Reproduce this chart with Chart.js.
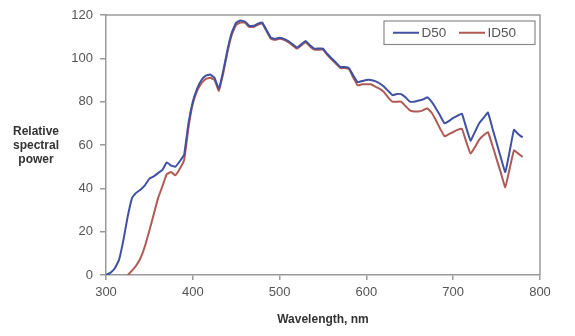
<!DOCTYPE html>
<html>
<head>
<meta charset="utf-8">
<title>Relative spectral power</title>
<script src="https://cdn.jsdelivr.net/npm/chart.js@4/dist/chart.umd.min.js"></script>
<style>
    html, body { margin: 0; padding: 0; background: #fff; }
    #wrap { width: 575px; height: 336px; }
</style>
</head>
<body>
<div id="wrap"><canvas id="chartSpd" width="575" height="336"></canvas></div>
<script>
/* =========================================================
   DATA
========================================================= */
const wavelengths = [
    300, 305, 310, 315, 320, 325, 330, 335, 340, 345,
    350, 355, 360, 365, 370, 375, 380, 385, 390, 395,
    400, 405, 410, 415, 420, 425, 430, 435, 440, 445,
    450, 455, 460, 465, 470, 475, 480, 485, 490, 495,
    500, 505, 510, 515, 520, 525, 530, 535, 540, 545,
    550, 555, 560, 565, 570, 575, 580, 585, 590, 595,
    600, 605, 610, 615, 620, 625, 630, 635, 640, 645,
    650, 655, 660, 665, 670, 675, 680, 685, 690, 695,
    700, 705, 710, 715, 720, 725, 730, 735, 740, 745,
    750, 755, 760, 765, 770, 775, 780
];

const d50 = [
    0, 1, 3, 7, 16, 27, 35.5, 38, 39.5, 41.5,
    44.5, 45.5, 47, 48.5, 52, 50.5, 50, 52.5, 55.5, 70,
    80, 86, 90, 92, 92.5, 91, 86, 94, 104, 112,
    116.5, 117.5, 117, 115, 115, 116, 116.5, 113, 109.5, 109,
    109.5, 109, 108, 106.5, 105, 106.5, 108, 106, 104.5, 104.5,
    104.5, 102, 100, 98, 96, 96, 95.5, 92, 89, 89.5,
    90, 90, 89.5, 88.5, 87, 85, 83, 83.5, 83.5, 82,
    80, 80, 80.5, 81, 82, 80, 77, 73.5, 70, 71,
    72.5, 73.5, 74.5, 68, 62, 66, 70, 72.5, 75, 68,
    61, 54, 47.5, 57, 67, 65, 63.5
];

const id50 = [
    null, null, null, null, null, 0, 2, 4.5, 8, 13.5,
    20.5, 28, 35.5, 41, 46.5, 47.5, 46, 49, 53, 68,
    79, 85, 88.5, 90.5, 91, 90, 85, 93, 103, 111,
    115.5, 116.5, 116.5, 114.5, 114.5, 115.5, 116, 112.5, 109, 108.5,
    109, 108.5, 107.5, 106, 104.5, 106, 107.5, 105.5, 104, 104,
    104, 101.5, 99.5, 97.5, 95.5, 95.5, 95, 91, 87.5, 88,
    88, 88, 87, 86, 84.5, 82, 80, 80, 80, 78,
    76, 75.5, 75.5, 76, 77, 75, 71.5, 67.5, 64, 65,
    66, 67, 67.5, 61.5, 56, 59, 62.5, 64.5, 66, 60,
    53.5, 47, 40.5, 49, 57.5, 56, 54.5
];

const seriesNames = ["D50", "ID50"];
const xTicks = [300, 400, 500, 600, 700, 800];
const yTicks = [0, 20, 40, 60, 80, 100, 120];
const yTitleLines = ["Relative", "spectral", "power"];
const xTitle = "Wavelength, nm";

const FONT = "'Liberation Sans', Arial, Helvetica, sans-serif";
const BLUE = "#3f51a0";
const RED = "#b05a55";
const AXIS = "#9a9a9a";

function toPoints(values) {
    return wavelengths.map((w, i) => ({ x: w, y: values[i] }));
}

/* =========================================================
   PLUGINS: frame, y title, legend box
========================================================= */
const framePlugin = {
    id: "frame",
    afterDraw(chart) {
        const { ctx, chartArea: a } = chart;
        ctx.save();
        ctx.strokeStyle = AXIS;
        ctx.lineWidth = 1.5;
        ctx.beginPath();
        ctx.moveTo(a.left, a.top);
        ctx.lineTo(a.right, a.top);
        ctx.lineTo(a.right, a.bottom);
        ctx.stroke();
        ctx.restore();
    }
};

const yTitlePlugin = {
    id: "yTitle",
    afterDraw(chart) {
        const ctx = chart.ctx;
        ctx.save();
        ctx.fillStyle = "#333";
        ctx.font = "bold 12px " + FONT;
        ctx.textAlign = "center";
        ctx.textBaseline = "middle";
        yTitleLines.forEach((t, i) => ctx.fillText(t, 36, 132 + i * 14));
        ctx.restore();
    }
};

const legendBoxPlugin = {
    id: "legendBox",
    afterDraw(chart) {
        const ctx = chart.ctx;
        const box = { x: 384, y: 21, w: 151, h: 23.5 };
        ctx.save();
        ctx.fillStyle = "#fff";
        ctx.fillRect(box.x, box.y, box.w, box.h);
        ctx.strokeStyle = "#8a8a8a";
        ctx.lineWidth = 1.2;
        ctx.strokeRect(box.x, box.y, box.w, box.h);

        const slots = [393, 459];
        ctx.font = "13.5px " + FONT;
        ctx.textBaseline = "middle";
        ctx.textAlign = "left";
        chart.data.datasets.forEach((ds, i) => {
            const x = slots[i];
            const y = box.y + box.h / 2;
            ctx.strokeStyle = ds.borderColor;
            ctx.lineWidth = 2;
            ctx.beginPath();
            ctx.moveTo(x, y);
            ctx.lineTo(x + 26, y);
            ctx.stroke();
            ctx.fillStyle = "#555";
            ctx.fillText(ds.label, x + 28.5, y + 0.5);
        });
        ctx.restore();
    }
};

/* =========================================================
   CHART
========================================================= */
const canvas = document.getElementById("chartSpd");

new Chart(canvas, {
    type: "line",
    data: {
        datasets: [
            {
                label: seriesNames[0],
                data: toPoints(d50),
                borderColor: BLUE,
                borderWidth: 2,
                pointRadius: 0,
                tension: 0.1,
                fill: false
            },
            {
                label: seriesNames[1],
                data: toPoints(id50),
                borderColor: RED,
                borderWidth: 2,
                pointRadius: 0,
                tension: 0.1,
                fill: false
            }
        ]
    },
    options: {
        responsive: false,
        animation: false,
        devicePixelRatio: 1,
        layout: { padding: { top: 15, right: 35, left: 0, bottom: 0 } },
        plugins: {
            legend: { display: false },
            tooltip: { enabled: false }
        },
        scales: {
            x: {
                type: "linear",
                min: 300,
                max: 800,
                afterBuildTicks: axis => { axis.ticks = xTicks.map(v => ({ value: v })); },
                afterFit: axis => { axis.height = 61; },
                grid: {
                    drawOnChartArea: false,
                    drawTicks: true,
                    tickLength: 5,
                    color: AXIS,
                    lineWidth: 1.5
                },
                border: { display: true, color: AXIS, width: 1.5 },
                ticks: {
                    padding: 5,
                    color: "#555",
                    font: { family: FONT, size: 13 },
                    maxRotation: 0
                },
                title: {
                    display: true,
                    text: xTitle,
                    color: "#333",
                    font: { family: FONT, size: 12, weight: "bold" },
                    padding: { top: 0, bottom: 9 }
                }
            },
            y: {
                min: 0,
                max: 120,
                afterBuildTicks: axis => { axis.ticks = yTicks.map(v => ({ value: v })); },
                afterFit: axis => { axis.width = 106; },
                grid: {
                    drawOnChartArea: false,
                    drawTicks: true,
                    tickLength: 6,
                    color: AXIS,
                    lineWidth: 1.5
                },
                border: { display: true, color: AXIS, width: 1.5 },
                ticks: {
                    padding: 7,
                    color: "#555",
                    font: { family: FONT, size: 13 }
                }
            }
        }
    },
    plugins: [framePlugin, yTitlePlugin, legendBoxPlugin]
});
</script>
</body>
</html>
